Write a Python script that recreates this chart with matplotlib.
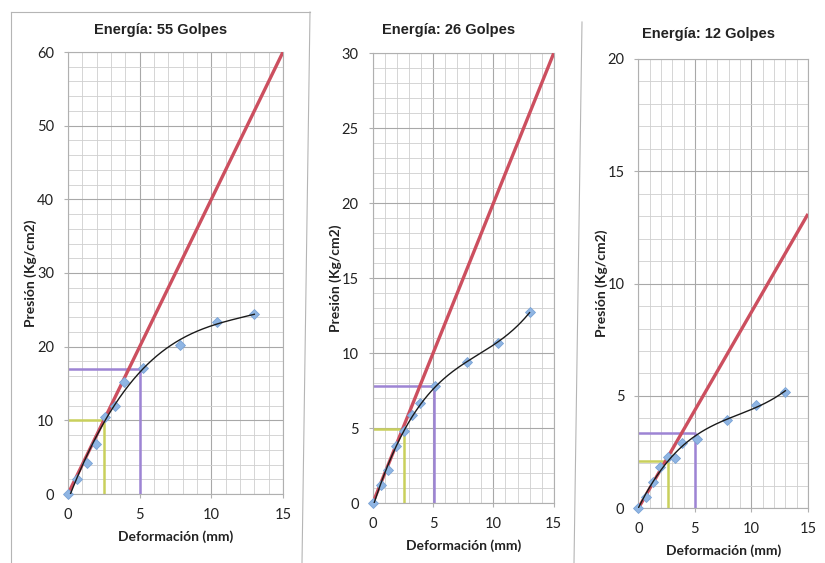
import numpy as np
import matplotlib
matplotlib.use('Agg')
import matplotlib.pyplot as plt
from matplotlib.lines import Line2D

# penetration (mm) for all three specimens
deform = [0, 0.65, 1.3, 1.95, 2.6, 3.25, 3.9, 5.2, 7.8, 10.4, 13.0]

# pressure readings (Kg/cm2) per compaction energy
p55 = [0, 2.05, 4.25, 6.85, 10.4, 11.9, 15.2, 17.1, 20.2, 23.3, 24.4]
p26 = [0, 1.2, 2.2, 3.8, 4.8, 5.9, 6.7, 7.8, 9.4, 10.7, 12.75]
p12 = [0, 0.52, 1.19, 1.82, 2.27, 2.23, 2.92, 3.09, 3.93, 4.6, 5.19]

titles = ['Energía: 55 Golpes', 'Energía: 26 Golpes', 'Energía: 12 Golpes']
series = [p55, p26, p12]

# corrected tangent line end points (x=0 -> x=15)
tangent_end = [60, 30, 13.1]
# read-off values at 0.1" and 0.2" penetration
x_01 = [2.54, 2.6, 2.6]
y_01 = [10.1, 4.93, 2.12]
x_02 = [5.05, 5.08, 5.05]
y_02 = [17.0, 7.8, 3.34]

ymax = [60, 30, 20]
ymajor = [10, 5, 5]
yminor = [2, 1, 1]

# axes boxes in pixels: left, right(x=15), top(ymax), bottom(y=0)
boxes = [(68, 283, 52, 494), (372.7, 553.7, 53.3, 503.3), (638.3, 808, 58.9, 508.3)]
title_pos = [(161, 30), (449, 30), (709, 34)]
ylab_x = [33, 338, 604]
xlab_y = [537, 546, 551]

W, H = 825, 563
fig = plt.figure(figsize=(W / 100, H / 100), dpi=100)
fig.patch.set_facecolor('white')

# chart area borders from the scanned sheet
for xs, ys in [([11, 310], [12, 12]), ([310, 302], [12, 563]), ([11, 11], [12, 563]),
               ([582, 574], [22, 563])]:
    fig.add_artist(Line2D([x / W for x in xs], [1 - y / H for y in ys],
                          color='#b5b5b5', lw=0.8, transform=fig.transFigure))

tick_font = 'Lato'
for i in range(3):
    l, r, t, b = boxes[i]
    ax = fig.add_axes([l / W, 1 - b / H, (r - l) / W, (b - t) / H])
    ax.set_xlim(0, 15)
    ax.set_ylim(0, ymax[i])
    ax.set_xticks(np.arange(0, 16, 5))
    ax.set_xticks(np.arange(0, 16, 1), minor=True)
    ax.set_yticks(np.arange(0, ymax[i] + 0.1, ymajor[i]))
    ax.set_yticks(np.arange(0, ymax[i] + 0.1, yminor[i]), minor=True)
    ax.grid(which='major', color='#a8a8a8', lw=0.8)
    ax.grid(which='minor', color='#cfcfcf', lw=0.6)
    ax.set_axisbelow(True)
    for s in ax.spines.values():
        s.set_color('#b0b0b0')
        s.set_linewidth(0.8)
    ax.tick_params(which='minor', length=0)
    ax.tick_params(which='major', length=3, color='#b0b0b0', pad=7, labelsize=10.5,
                   labelcolor='#222222')
    for lab in ax.get_xticklabels() + ax.get_yticklabels():
        lab.set_family(tick_font)

    # 0.1" and 0.2" read-off lines
    ax.plot([0, x_01[i], x_01[i]], [y_01[i], y_01[i], 0], color='#c9d05c', lw=1.8, zorder=2)
    ax.plot([0, x_02[i], x_02[i]], [y_02[i], y_02[i], 0], color='#9d84d4', lw=1.8, zorder=2)

    # tangent line
    ax.plot([0, 15], [0, tangent_end[i]], color='#cc4f5f', lw=2.4, zorder=3,
            solid_capstyle='butt')

    # measured points
    ax.plot(deform, series[i], ls='none', marker='D', ms=5.5, color='#8fb5e3',
            mec='#7aa3d6', mew=0.6, zorder=4, clip_on=False)

    # polynomial trendline
    coef = np.polyfit(deform, series[i], 3)
    xs = np.linspace(0, deform[-1], 200)
    ax.plot(xs, np.polyval(coef, xs), color='#1a1a1a', lw=1.0, zorder=5)

    ax.set_xlabel('Deformación (mm)', family=tick_font, fontweight='bold', fontsize=10,
                  color='#222222')
    ax.xaxis.set_label_coords(0.5, -(xlab_y[i] - 7 - b) / (b - t), transform=ax.transAxes)
    ax.set_ylabel('Presión (Kg/cm2)', family=tick_font, fontweight='bold', fontsize=10,
                  color='#222222')
    ax.yaxis.set_label_coords(-(l - ylab_x[i] - 4) / (r - l), 0.5, transform=ax.transAxes)

    fig.text(title_pos[i][0] / W, 1 - title_pos[i][1] / H, titles[i], ha='center',
             va='center', fontsize=10.5, fontweight='bold',
             family=['Liberation Sans Narrow', 'Liberation Sans'], color='#222222')

fig.savefig('out.png', dpi=100, facecolor='white')
